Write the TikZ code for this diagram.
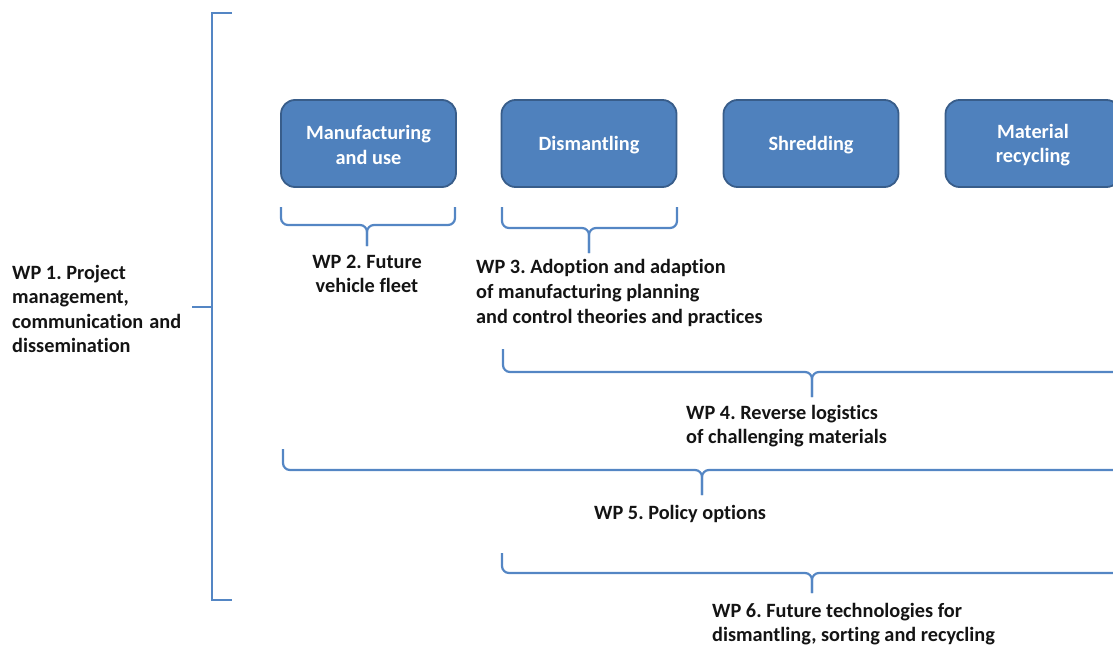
\documentclass[tikz,border=0pt]{standalone}
\usepackage{fontspec}
\setmainfont{Carlito}[Ligatures=NoCommon]
\frenchspacing
\definecolor{boxfill}{RGB}{79,129,189}
\definecolor{boxdraw}{RGB}{56,93,138}
\definecolor{bracecol}{RGB}{84,134,196}
\definecolor{txt}{RGB}{20,20,20}
\begin{document}
\begin{tikzpicture}[x=1pt,y=-1pt,
  stage/.style={draw=boxdraw, line width=1.8pt, fill=boxfill, rounded corners=14pt,
    minimum width=175pt, minimum height=87pt, inner sep=0pt},
  stagetext/.style={align=center, text=white,
    font=\bfseries\fontsize{20.3}{24.8}\selectfont, inner sep=0pt},
  wplabel/.style={text=txt, font=\bfseries\fontsize{20.3}{24.6}\selectfont, inner sep=0pt},
  bracel/.style={draw=bracecol, line width=2.2pt, rounded corners=7pt}]
\useasboundingbox (0,0) rectangle (1113,645);
\clip (0,0) rectangle (1113,645);
% stages
\node[stage] (man) at (368.5,143.5) {};
\node[stage] (dis) at (589,143.5) {};
\node[stage] (shr) at (811,143.5) {};
\node[stage] (mat) at (1033,143.5) {};
\node[stagetext] (mant) at ([yshift=-1.5pt]man.center) {Manufacturing\\and use};
\node[stagetext] (dist) at ([yshift=-1.5pt]dis.center) {Dismantling};
\node[stagetext] (shrt) at ([yshift=-1.5pt]shr.center) {Shredding};
\node[stagetext] (matt) at ([yshift=-1.5pt]mat.center) {Material\\recycling};
% labels
\node[wplabel, anchor=west, align=left] (wp1) at (12,309) {WP 1. Project\\management,\\communication\hspace{6pt}and\\dissemination};
\node[wplabel, align=center] (wp2) at (367,274) {WP 2. Future\\vehicle fleet};
\node[wplabel, anchor=west, align=left] (wp3) at (476,293) {WP 3. Adoption and adaption\\of manufacturing planning\\and control theories and practices};
\node[wplabel, anchor=west, align=left] (wp4) at (686,426) {WP 4. Reverse logistics\\of challenging materials};
\node[wplabel, anchor=west] (wp5) at (594,514) {WP 5. Policy options};
\node[wplabel, anchor=west, align=left] (wp6) at (712,624) {WP 6. Future technologies for\\dismantling, sorting and recycling};
% WP1 bracket
\coordinate (b1t) at (232,13);
\coordinate (b1b) at (232,600);
\coordinate (b1m) at (192,307);
\draw[draw=bracecol, line width=2.2pt] (b1t) -| (212,600) -- (b1b);
\draw[draw=bracecol, line width=2.2pt] (b1m) -- (212,307);
% WP2 brace
\coordinate (b2l) at (281,207);
\coordinate (b2r) at (455,207);
\coordinate (b2m) at (367,225);
\coordinate (b2tip) at (367,246);
\draw[bracel] (b2l) |- (b2m) -- (b2tip);
\draw[bracel] (b2r) |- (b2m) -- (b2tip);
% WP3 brace
\coordinate (b3l) at (502,207);
\coordinate (b3r) at (677,207);
\coordinate (b3m) at (589,228);
\coordinate (b3tip) at (589,253);
\draw[bracel] (b3l) |- (b3m) -- (b3tip);
\draw[bracel] (b3r) |- (b3m) -- (b3tip);
% WP4 brace
\coordinate (b4l) at (503,349);
\coordinate (b4r) at (1130,372);
\coordinate (b4m) at (812,372);
\coordinate (b4tip) at (812,397);
\draw[bracel] (b4l) |- (b4m) -- (b4tip);
\draw[bracel] (b4r) -- (b4m) -- (b4tip);
% WP5 brace
\coordinate (b5l) at (283,449);
\coordinate (b5r) at (1130,470);
\coordinate (b5m) at (702,470);
\coordinate (b5tip) at (702,495);
\draw[bracel] (b5l) |- (b5m) -- (b5tip);
\draw[bracel] (b5r) -- (b5m) -- (b5tip);
% WP6 brace
\coordinate (b6l) at (502,553);
\coordinate (b6r) at (1130,573);
\coordinate (b6m) at (812,573);
\coordinate (b6tip) at (812,593);
\draw[bracel] (b6l) |- (b6m) -- (b6tip);
\draw[bracel] (b6r) -- (b6m) -- (b6tip);
\end{tikzpicture}
\end{document}
